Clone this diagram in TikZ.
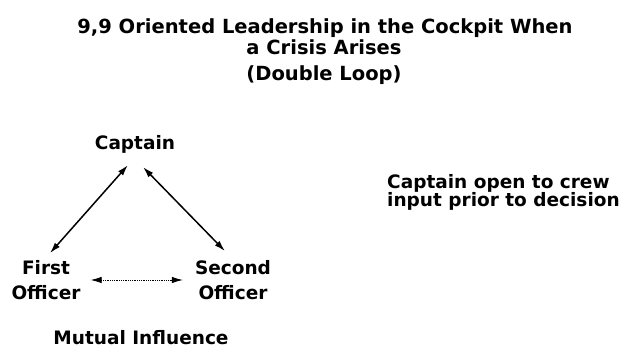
\documentclass[tikz,border=0pt]{standalone}
\usepackage{fontspec}
\setmainfont{DejaVu Sans}
\usetikzlibrary{arrows.meta}
\begin{document}
\begin{tikzpicture}[x=1pt, y=-1pt,
    every node/.style={font=\bfseries\fontsize{18.5}{25}\selectfont, inner sep=2pt, align=center},
    head/.style={font=\bfseries\fontsize{19.5}{21}\selectfont},
    link/.style={{Latex[length=11pt,width=6.5pt]}-{Latex[length=11pt,width=6.5pt]}, line width=1.5pt}]
    % page frame
    \useasboundingbox (0,0) rectangle (624,352);
    % heading
    \node[head, anchor=base] (title) at (325,34) {9,9 Oriented Leadership in the Cockpit When};
    \node[head, anchor=base] (crisis) at (324,55) {a Crisis Arises};
    \node[head, anchor=base] (loop) at (324,81) {(Double Loop)};
    
    % the crew
    \node[anchor=base] (captain) at (135,150) {Captain};
    \node (first) at (46,280) {First\\Officer};
    \node (second) at (233,280) {Second\\Officer};
    \node[anchor=base] (mutual) at (141,345) {Mutual Influence};
    \node[anchor=west, align=left, font=\bfseries\fontsize{18.5}{18}\selectfont] (open) at (385,192) {Captain open to crew\\input prior to decision};
    
    % influence between them
    \draw[link] ([xshift=4pt, yshift=5pt]first.north) -- ([xshift=-7pt, yshift=-9pt]captain.south);
    \draw[link] ([xshift=8pt, yshift=-11pt]captain.south) -- ([xshift=-8pt, yshift=7pt]second.north);
    \draw[link, line width=0.8pt, densely dotted, shorten <=8pt, shorten >=10pt] (first) -- (second);
\end{tikzpicture}
\end{document}
